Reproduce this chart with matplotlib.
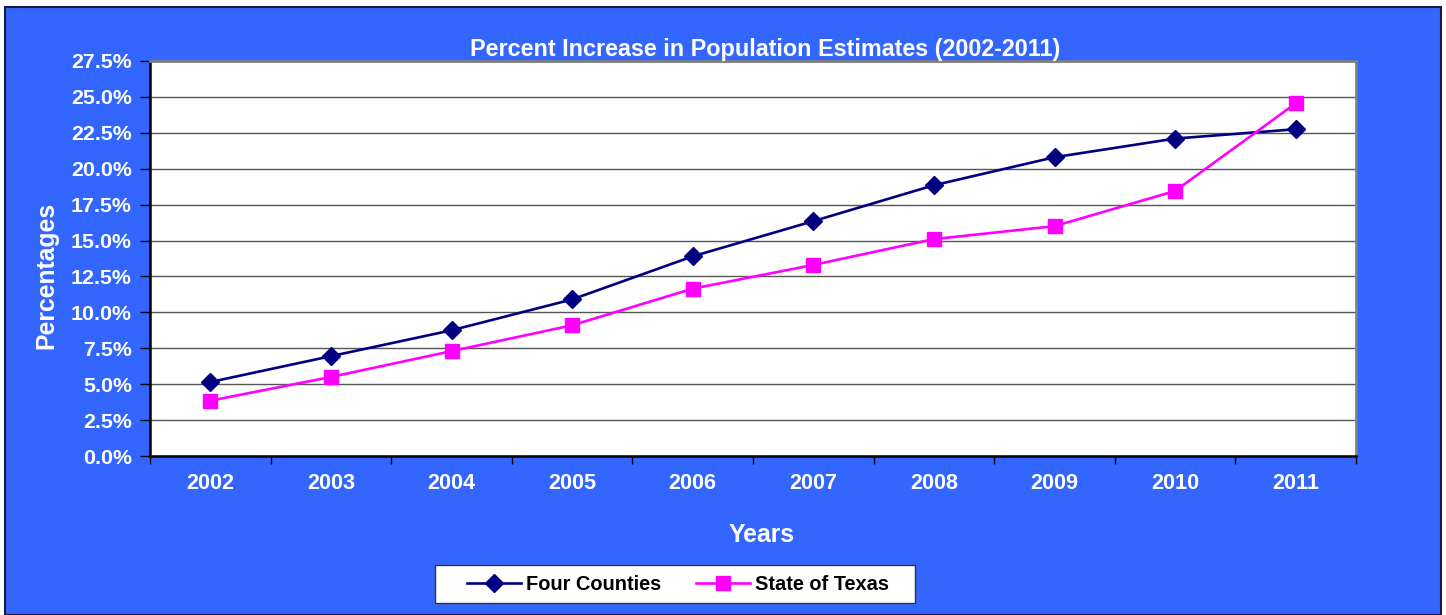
import numpy as np
import matplotlib
matplotlib.use("Agg")
import matplotlib.pyplot as plt
from matplotlib.patches import Rectangle
from matplotlib.ticker import FixedLocator, PercentFormatter

# data
YEARS = ["2002", "2003", "2004", "2005", "2006", "2007", "2008", "2009", "2010", "2011"]
FOUR_COUNTIES = [5.15, 6.95, 8.75, 10.9, 13.9, 16.35, 18.85, 20.8, 22.1, 22.75]
STATE_OF_TEXAS = [3.85, 5.5, 7.3, 9.1, 11.65, 13.3, 15.1, 16.0, 18.45, 24.55]

BG = "#3366FF"
plt.rcParams["font.family"] = ["Liberation Sans", "DejaVu Sans"]
plt.rcParams["font.weight"] = "bold"

fig = plt.figure(figsize=(14.46, 6.15), dpi=100)
fig.patch.set_facecolor("white")
# blue chart area with dark border
fig.patches.append(Rectangle((5 / 1446, 0), 1436 / 1446, 608 / 615, transform=fig.transFigure,
                             facecolor=BG, edgecolor="#1a1a40", linewidth=1.5, zorder=-5))
# legend box
fig.patches.append(Rectangle((435 / 1446, 1 - 603 / 615), 480 / 1446, 38 / 615, transform=fig.transFigure,
                             facecolor="white", edgecolor="#333333", linewidth=1, zorder=-4))

ax = fig.add_axes([150 / 1446, 1 - 456 / 615, 1206 / 1446, 395 / 615], zorder=2)
x = np.arange(len(YEARS))
ax.plot(x, FOUR_COUNTIES, color="#000080", lw=1.9, marker="D", ms=9, label="Four Counties", zorder=3)
ax.plot(x, STATE_OF_TEXAS, color="#FF00FF", lw=1.9, marker="s", ms=10, label="State of Texas", zorder=3)

ax.set_xlim(-0.5, len(YEARS) - 0.5)
ax.set_ylim(0, 27.5)
ax.set_yticks(np.arange(0, 27.6, 2.5))
ax.yaxis.set_major_formatter(PercentFormatter(decimals=1))
ax.grid(axis="y", color="#555555", lw=1)
ax.set_axisbelow(True)

ax.set_xticks(x)
ax.set_xticklabels(YEARS)
ax.xaxis.set_minor_locator(FixedLocator(np.arange(-0.5, len(YEARS), 1)))
ax.tick_params(axis="x", which="major", length=0, pad=12, labelsize=15.6, labelcolor="white")
ax.tick_params(axis="x", which="minor", length=6, width=1, color="black", direction="out")
ax.tick_params(axis="y", length=7, width=1, color="black", labelsize=15.4, labelcolor="white", pad=6)

for side in ["left", "bottom"]:
    ax.spines[side].set_color("black")
    ax.spines[side].set_linewidth(1.8)
for side in ["top", "right"]:
    ax.spines[side].set_color("#808080")
    ax.spines[side].set_linewidth(2)

ax.set_title("Percent Increase in Population Estimates (2002-2011)", color="white",
             fontsize=16.8, fontweight="bold", pad=3)
ax.title.set_x(0.51)
ax.set_xlabel("Years", color="white", fontsize=17.8, fontweight="bold", labelpad=21)
ax.xaxis.label.set_x(0.5075)
ax.set_ylabel("Percentages", color="white", fontsize=17.8, fontweight="bold")
ax.yaxis.set_label_coords(-0.0756, 0.458)

leg = fig.legend(loc="center", bbox_to_anchor=(678 / 1446, 1 - 584 / 615), ncol=2,
                 fontsize=14.4, frameon=False,
                 handlelength=2.7, columnspacing=1.7, handletextpad=0.25)
for t in leg.get_texts():
    t.set_fontweight("bold")

fig.savefig("out.png", dpi=100, facecolor=fig.get_facecolor())
